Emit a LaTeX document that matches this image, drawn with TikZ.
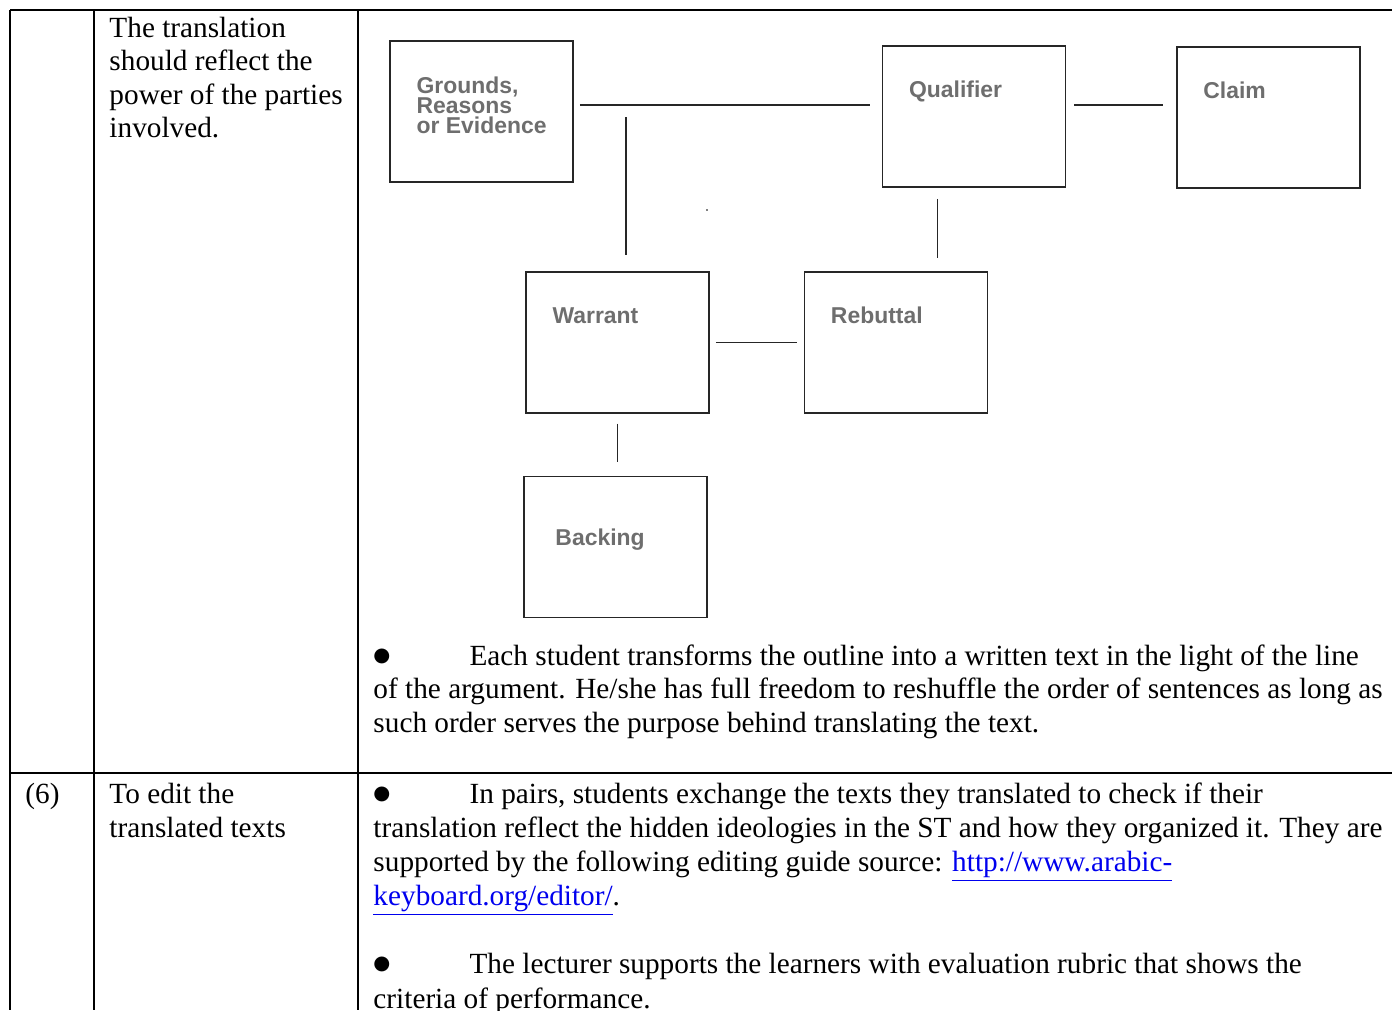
\documentclass[tikz,border=0pt]{standalone}
\usepackage{fontspec}
\setmainfont{Liberation Serif}
\newfontfamily\boxfont{Liberation Sans}
\newfontfamily\markfont{DejaVu Sans}
\usetikzlibrary{positioning}
\definecolor{tagtext}{HTML}{6E6E6E}
\definecolor{linkblue}{HTML}{0000EE}
\newcommand{\weblink}[1]{\textcolor{linkblue}{\underline{#1}}}
\newcommand{\itembullet}{\makebox[39.4pt][l]{\raisebox{1.6pt}{\markfont\fontsize{8}{10}\selectfont ●}}}

\begin{document}
\begin{tikzpicture}[x=0.41pt,y=-0.41pt]
    \tikzstyle{stage} = [rectangle, draw=black!85, line width=0.65pt, minimum width=75pt, minimum height=57.8pt, inner sep=0pt]
    \tikzstyle{tag} = [anchor=base west, inner sep=0pt, xshift=11pt, yshift=-21.3pt, text=tagtext, align=left, font=\boxfont\bfseries\fontsize{9.4}{8.3}\selectfont]
    \tikzstyle{link} = [line width=0.75pt, black!85]
    \tikzstyle{rule} = [line width=1pt]
    \tikzstyle{cell} = [anchor=base west, inner sep=0pt, font=\fontsize{12}{14}\selectfont]

    \useasboundingbox (0,0) rectangle (1392,1010);
    \clip (0,0) rectangle (1392,1010);

    % table rules
    \draw[rule] (10,10) -- (1392,10);
    \draw[rule] (10,773) -- (1392,773);
    \draw[rule] (10,10) -- (10,1010);
    \draw[rule] (94,10) -- (94,1010);
    \draw[rule] (358,10) -- (358,1010);

    % left cells
    \node[cell] (aim1) at (109,37) {The translation};
    \node[cell] (aim2) at (109,70.5) {should reflect the};
    \node[cell] (aim3) at (109,104) {power of the parties};
    \node[cell] (aim4) at (109,137.5) {involved.};
    \node[cell] (num6) at (25,803) {(6)};
    \node[cell] (edit1) at (109,803) {To edit the};
    \node[cell] (edit2) at (109,837) {translated texts};

    % argument model
    \node[stage, label={[tag, yshift=-17pt]north west:Grounds,\\Reasons\\or Evidence}] (grounds) at (481.5,111.5) {};
    \node[stage, label={[tag]north west:Qualifier}] (qualifier) at (974,116.5) {};
    \node[stage, right=45pt of qualifier, yshift=-0.4pt, label={[tag]north west:Claim}] (claim) {};
    \node[stage, label={[tag]north west:Warrant}] (warrant) at (617.5,342.5) {};
    \node[stage, right=38.5pt of warrant, label={[tag]north west:Rebuttal}] (rebuttal) {};
    \node[stage, below=25.4pt of warrant, xshift=-0.8pt, label={[tag, xshift=2pt, yshift=-7.4pt]north west:Backing}] (backing) {};

    \coordinate (joint) at (626,105);
    \draw[link] ([xshift=2.5pt]grounds.east |- joint) -- ([xshift=-5pt]qualifier.west |- joint);
    \draw[link] ([yshift=-5pt]joint) -- ([yshift=6.5pt]warrant.north -| joint);
    \draw[link] ([xshift=3.3pt]qualifier.east |- joint) -- ([xshift=-5.3pt]claim.west |- joint);
    \draw[link] ([xshift=-15pt,yshift=-4.5pt]qualifier.south) -- ([xshift=-15pt,yshift=5.3pt]rebuttal.north -| qualifier.south);
    \draw[link] ([xshift=2.5pt]warrant.east) -- ([xshift=-2.9pt]rebuttal.west);
    \draw[link] ([yshift=-4pt]warrant.south) -- ([yshift=5.8pt]backing.north -| warrant.south);
    \fill (707,210) circle (0.35pt);

    % right cells
    \node[cell] (step1a) at (373,665) {\itembullet Each student transforms the outline into a written text in the light of the line};
    \node[cell] (step1b) at (373,698.5) {of the argument. He/she has full freedom to reshuffle the order of sentences as long as};
    \node[cell] (step1c) at (373,732) {such order serves the purpose behind translating the text.};
    \node[cell] (step2a) at (373,803) {\itembullet In pairs, students exchange the texts they translated to check if their};
    \node[cell] (step2b) at (373,837) {translation reflect the hidden ideologies in the ST and how they organized it. They are};
    \node[cell] (step2c) at (373,871) {supported by the following editing guide source: \weblink{http://www.arabic-}};
    \node[cell] (step2d) at (373,905) {\weblink{keyboard.org/editor/}.};
    \node[cell] (step3a) at (373,973.5) {\itembullet The lecturer supports the learners with evaluation rubric that shows the};
    \node[cell] (step3b) at (373,1008) {criteria of performance.};
\end{tikzpicture}
\end{document}
